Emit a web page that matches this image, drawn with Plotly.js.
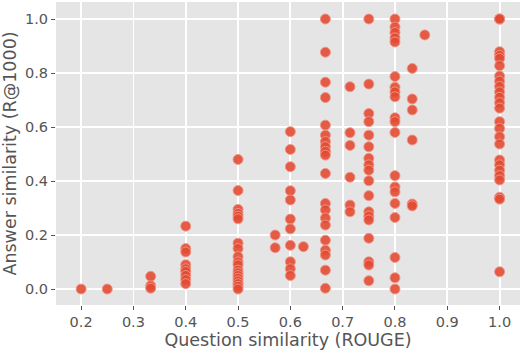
<!DOCTYPE html>
<html>
<head>
<meta charset="utf-8">
<script src="https://cdn.plot.ly/plotly-3.0.1.min.js"></script>
<style>
  html, body { margin: 0; padding: 0; background: #fff; }
  #chart { width: 524px; height: 352px; }
</style>
</head>
<body>
<div id="chart"></div>
<script>
// question similarity (ROUGE) -> list of answer similarities (R@1000)
const questionSim = [0.2, 0.25, 0.333, 0.4, 0.5, 0.571, 0.6, 0.625, 0.667, 0.714, 0.75, 0.8, 0.833, 0.857, 1.0];
const answerSim = [
    [0.0],
    [0.0],
    [0.047, 0.012, 0.003],
    [0.233, 0.15, 0.137, 0.09, 0.075, 0.065, 0.05, 0.035, 0.02],
    [0.48, 0.365, 0.295, 0.28, 0.27, 0.26, 0.17, 0.15, 0.12, 0.10, 0.09, 0.07, 0.06, 0.05, 0.04, 0.03, 0.02, 0.01, 0.0],
    [0.2, 0.153],
    [0.583, 0.517, 0.453, 0.364, 0.33, 0.259, 0.223, 0.162, 0.101, 0.075, 0.05],
    [0.157],
    [1.0, 0.877, 0.766, 0.709, 0.607, 0.57, 0.546, 0.527, 0.51, 0.496, 0.428, 0.317, 0.293, 0.263, 0.237, 0.181, 0.144, 0.126, 0.07, 0.003],
    [0.749, 0.579, 0.532, 0.414, 0.311, 0.286],
    [1.0, 0.759, 0.65, 0.62, 0.57, 0.527, 0.484, 0.46, 0.44, 0.401, 0.346, 0.286, 0.27, 0.256, 0.188, 0.101, 0.089, 0.031],
    [1.0, 0.97, 0.95, 0.93, 0.915, 0.787, 0.747, 0.73, 0.712, 0.634, 0.62, 0.58, 0.42, 0.378, 0.36, 0.317, 0.265, 0.117, 0.042, 0.0],
    [0.817, 0.704, 0.663, 0.552, 0.315, 0.308],
    [0.941],
    [1.0, 1.0, 1.0, 0.879, 0.865, 0.854, 0.827, 0.789, 0.77, 0.75, 0.73, 0.71, 0.69, 0.67, 0.62, 0.595, 0.564, 0.537, 0.478, 0.46, 0.44, 0.42, 0.404, 0.34, 0.333, 0.064]
];
const xTicks = [0.2, 0.3, 0.4, 0.5, 0.6, 0.7, 0.8, 0.9, 1.0];
const yTicks = [0.0, 0.2, 0.4, 0.6, 0.8, 1.0];

let xs = [];
let ys = [];
for (let i = 0; i < questionSim.length; i++) {
    for (const v of answerSim[i]) {
        xs.push(questionSim[i]);
        ys.push(v);
    }
}

const data = [{
    x: xs,
    y: ys,
    type: 'scatter',
    mode: 'markers',
    marker: {
        size: 10,
        color: 'rgba(226,74,51,0.9)',
        line: { color: 'rgba(240,150,135,0.9)', width: 1 }
    },
    hoverinfo: 'x+y'
}];

const font = 'DejaVu Sans, sans-serif';

const axisCommon = {
    showgrid: true,
    gridcolor: '#ffffff',
    gridwidth: 1.8,
    zeroline: false,
    showline: false,
    ticks: 'outside',
    ticklen: 4,
    tickwidth: 1,
    tickcolor: '#555555',
    tickfont: { family: font, size: 14.5, color: '#555555' }
};

const layout = {
    width: 524,
    height: 352,
    margin: { l: 56, r: 4, t: 2, b: 47 },
    paper_bgcolor: '#ffffff',
    plot_bgcolor: '#e5e5e5',
    showlegend: false,
    xaxis: Object.assign({}, axisCommon, {
        range: [0.152, 1.039],
        tickvals: xTicks,
        ticktext: xTicks.map(v => v.toFixed(1)),
        title: { text: 'Question similarity (ROUGE)', font: { family: font, size: 17.5, color: '#555555' }, standoff: 4 }
    }),
    yaxis: Object.assign({}, axisCommon, {
        range: [-0.059, 1.063],
        tickvals: yTicks,
        ticktext: yTicks.map(v => v.toFixed(1)),
        title: { text: 'Answer similarity (R@1000)', font: { family: font, size: 17.5, color: '#555555' }, standoff: 4 }
    })
};

Plotly.newPlot('chart', data, layout, { displayModeBar: false, staticPlot: true });
</script>
</body>
</html>
